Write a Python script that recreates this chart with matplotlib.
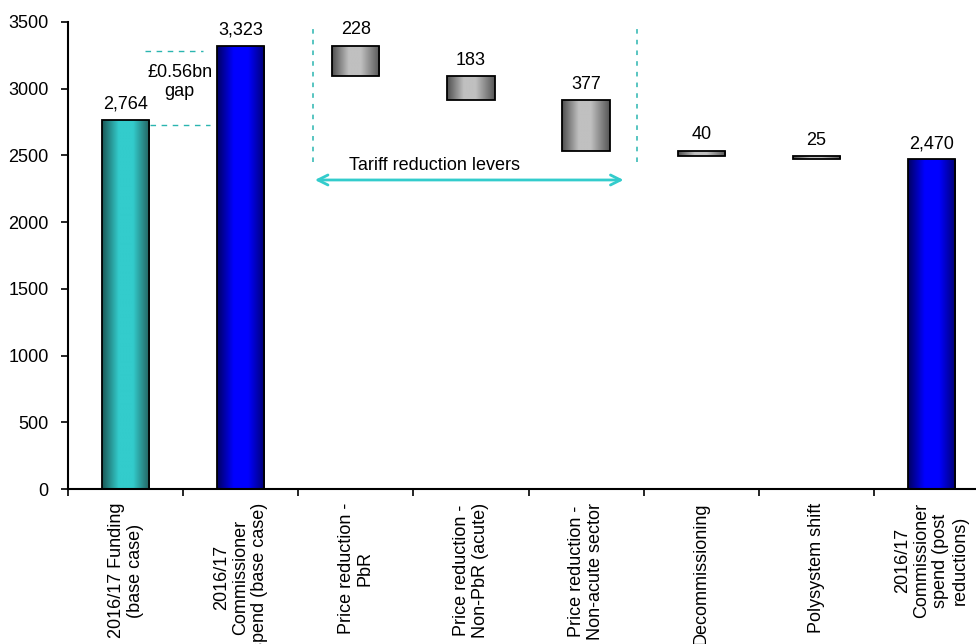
import matplotlib
matplotlib.use("Agg")
import matplotlib.pyplot as plt
import numpy as np
from matplotlib.colors import LinearSegmentedColormap

plt.rcParams['font.family'] = ['Liberation Sans', 'DejaVu Sans']

categories = [
    "2016/17 Funding\n(base case)",
    "2016/17\nCommissioner\nspend (base case)",
    "Price reduction -\nPbR",
    "Price reduction -\nNon-PbR (acute)",
    "Price reduction -\nNon-acute sector",
    "Decommissioning",
    "Polysystem shift",
    "2016/17\nCommissioner\nspend (post\nreductions)",
]
funding = 2764
base_spend = 3323
reductions = [228, 183, 377, 40, 25]
final_spend = 2470
value_labels = ["2,764", "3,323", "228", "183", "377", "40", "25", "2,470"]

# bar spans (bottom, top) for the waterfall
bottoms, tops = [0, 0], [funding, base_spend]
level = base_spend
for r in reductions:
    tops.append(level)
    level -= r
    bottoms.append(level)
bottoms.append(0)
tops.append(final_spend)

kinds = ["teal", "blue"] + ["grey"] * len(reductions) + ["blue"]
ramps = {
    "teal": [(0, "#1a5856"), (0.35, "#33cccc"), (0.65, "#33cccc"), (1, "#235f5d")],
    "blue": [(0, "#000060"), (0.35, "#0000ff"), (0.65, "#0000ff"), (1, "#000070")],
    "grey": [(0, "#4e4e4e"), (0.35, "#c0c0c0"), (0.6, "#c0c0c0"), (1, "#555555")],
}

fig = plt.figure(figsize=(9.76, 6.44), dpi=100)
ax = fig.add_axes([68 / 976, 1 - 489 / 644, (989 - 68) / 976, (489 - 22) / 644])
ax.set_xlim(-0.5, 7.5)
ax.set_ylim(0, 3500)

width = 0.41
grad = np.linspace(0, 1, 256).reshape(1, -1)
for i, (b, t, k) in enumerate(zip(bottoms, tops, kinds)):
    cmap = LinearSegmentedColormap.from_list(k, ramps[k])
    x0 = i - width / 2
    rect = plt.Rectangle((x0, b), width, t - b, facecolor="none",
                         edgecolor="black", linewidth=1.3, zorder=3)
    ax.add_patch(rect)
    im = ax.imshow(grad, cmap=cmap, aspect="auto", extent=(x0, x0 + width, b, t),
                   zorder=2, interpolation="bilinear")
    im.set_clip_path(rect)
    ax.text(i, t + 55, value_labels[i], ha="center", va="bottom", fontsize=13)

teal = "#2ab5b0"
# gap markers between funding and spend
ax.plot([0.17, 0.67], [3285, 3285], ls=(0, (4, 4)), color=teal, lw=1)
ax.plot([0.21, 0.73], [2725, 2725], ls=(0, (4, 4)), color=teal, lw=1)
ax.text(0.47, 3050, "£0.56bn\ngap", ha="center", va="center", fontsize=13, linespacing=1.1)

# bracket for tariff reduction levers
for xv in (1.63, 4.44):
    ax.plot([xv, xv], [2450, 3460], ls=(0, (3, 4)), color=teal, lw=1.1)
ax.annotate("", xy=(1.62, 2316), xytext=(4.35, 2316),
            arrowprops=dict(arrowstyle="<->", color="#33cccc", lw=2, mutation_scale=18))
ax.text(2.68, 2421, "Tariff reduction levers", ha="center", va="center", fontsize=13)

ax.set_yticks(np.arange(0, 3501, 500))
ax.tick_params(axis="y", labelsize=13, length=5, width=1.2, direction="out", pad=9)
ax.set_xticks(range(len(categories)))
ax.set_xticklabels(categories, rotation=90, ha="center", va="top", fontsize=13,
                   multialignment="center", linespacing=1.15)
ax.tick_params(axis="x", which="major", length=0, pad=10)
ax.set_xticks(np.arange(-0.5, 8, 1), minor=True)
ax.tick_params(axis="x", which="minor", length=5, width=1.2, direction="out")
for s in ("top", "right"):
    ax.spines[s].set_visible(False)
for s in ("left", "bottom"):
    ax.spines[s].set_linewidth(1.5)

fig.savefig("out.png", dpi=100)
